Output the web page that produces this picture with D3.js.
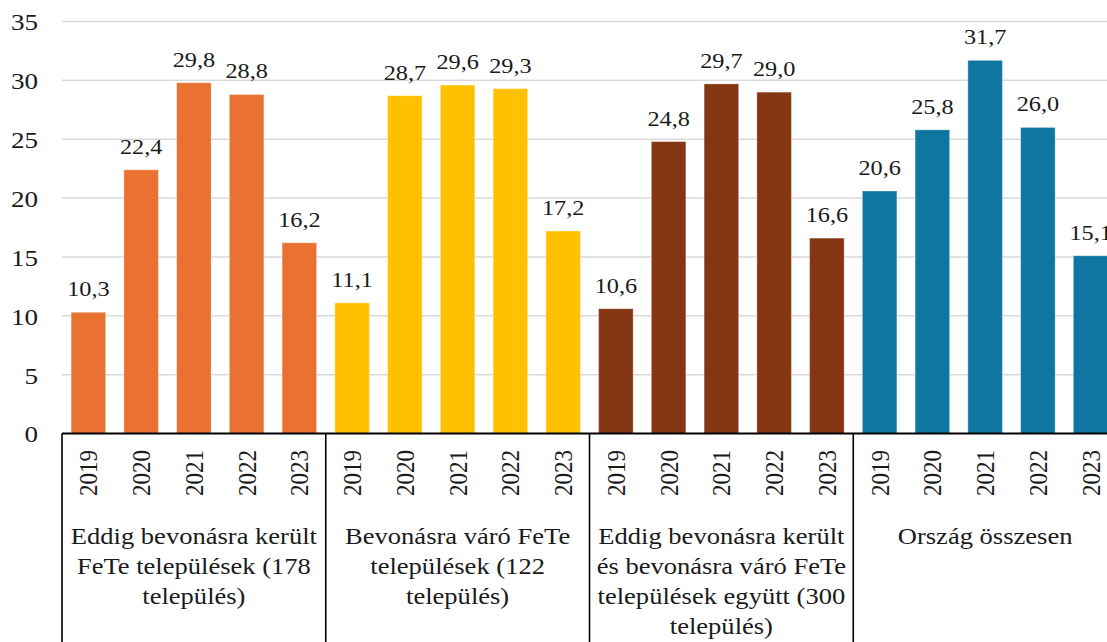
<!DOCTYPE html>
<html>
<head>
<meta charset="utf-8">
<script src="https://cdn.jsdelivr.net/npm/d3@7/dist/d3.min.js"></script>
<style>
  html, body { margin: 0; padding: 0; background: #fff; overflow: hidden; }
  svg { display: block; }
  #chart text { font-family: "Liberation Serif"; }
</style>
</head>
<body>
<svg id="chart" width="1107" height="642" font-family="Liberation Serif"></svg>
<script>
// ---- data ----
const years = ["2019", "2020", "2021", "2022", "2023"];
const groups = [
  "Eddig bevonásra került FeTe települések (178 település)",
  "Bevonásra váró FeTe települések (122 település)",
  "Eddig bevonásra került és bevonásra váró FeTe települések együtt (300 település)",
  "Ország összesen"
];
const groupLabelLines = [
  ["Eddig bevonásra került", "FeTe települések (178", "település)"],
  ["Bevonásra váró FeTe", "települések (122", "település)"],
  ["Eddig bevonásra került", "és bevonásra váró FeTe", "települések együtt (300", "település)"],
  ["Ország összesen"]
];
const valuesGroup1 = [10.3, 22.4, 29.8, 28.8, 16.2];
const valuesGroup2 = [11.1, 28.7, 29.6, 29.3, 17.2];
const valuesGroup3 = [10.6, 24.8, 29.7, 29.0, 16.6];
const valuesGroup4 = [20.6, 25.8, 31.7, 26.0, 15.1];
const seriesValues = [valuesGroup1, valuesGroup2, valuesGroup3, valuesGroup4];
const yTicks = [0, 5, 10, 15, 20, 25, 30, 35];
const colors = ["#E97132", "#FFC000", "#843511", "#0E76A0"];

const FONT = "Liberation Serif";
const SX = 1.13; // horizontal stretch of the reference's text
const TXT = "#1a1a1a";

// ---- layout ----
const svg = d3.select("#chart");
const plotLeft = 62, plotRight = 1117, yZero = 433.5, yTop = 21.5, bottom = 642;

const y = d3.scaleLinear().domain([0, 35]).range([yZero, yTop]);
const xGroup = d3.scaleBand().domain(groups).range([plotLeft, plotRight]).padding(0);
const xYear = d3.scaleBand().domain(years).range([0, xGroup.bandwidth()])
  .paddingInner(0.345).paddingOuter(0.1725);

// gridlines
svg.append("g").selectAll("line").data(yTicks.filter(t => t > 0)).join("line")
  .attr("x1", plotLeft).attr("x2", plotRight)
  .attr("y1", d => y(d)).attr("y2", d => y(d))
  .attr("stroke", "#d9d9d9").attr("stroke-width", 1.5);

// y axis labels
const yAxis = d3.axisLeft(y).tickValues(yTicks).tickSize(0).tickPadding(0).tickFormat(d3.format("d"));
const yg = svg.append("g").attr("transform", "translate(38,0)").call(yAxis);
yg.attr("font-family", FONT).attr("font-size", 24);
yg.select(".domain").remove();
yg.selectAll(".tick text")
  .attr("x", 0).attr("dy", "0.35em")
  .attr("transform", `scale(${SX},1)`)
  .attr("fill", TXT)
  .style("font-family", FONT).style("font-size", "24px");

// bars
groups.forEach((g, gi) => {
  const gx = xGroup(g);
  const data = years.map((yr, i) => ({ yr, v: seriesValues[gi][i] }));
  const gg = svg.append("g").attr("transform", `translate(${gx},0)`).attr("font-family", FONT);
  gg.selectAll("rect").data(data).join("rect")
    .attr("x", d => xYear(d.yr))
    .attr("width", xYear.bandwidth())
    .attr("y", d => y(d.v))
    .attr("height", d => y(0) - y(d.v))
    .attr("fill", colors[gi])
    .attr("stroke", "#ffffff").attr("stroke-opacity", 0.35).attr("stroke-width", 1);
  gg.selectAll("text.val").data(data).join("text")
    .attr("class", "val")
    .attr("transform", d => `translate(${xYear(d.yr) + xYear.bandwidth() / 2},${y(d.v) - 16}) scale(${SX},1)`)
    .attr("text-anchor", "middle")
    .attr("fill", TXT)
    .style("font-family", FONT)
    .style("font-size", "21.5px")
    .text(d => d3.format(".1f")(d.v).replace(".", ","));
  // year labels (rotated)
  gg.selectAll("text.yr").data(data).join("text")
    .attr("class", "yr")
    .attr("transform", d => `translate(${xYear(d.yr) + xYear.bandwidth() / 2},450) scale(${SX},1) rotate(-90)`)
    .attr("text-anchor", "end")
    .attr("dy", "0.35em")
    .attr("fill", TXT)
    .style("font-family", FONT)
    .style("font-size", "23px")
    .text(d => d.yr);
  // group labels
  const cx = xGroup.bandwidth() / 2;
  gg.append("text")
    .attr("transform", `translate(${cx},0) scale(${SX},1)`)
    .attr("text-anchor", "middle")
    .attr("fill", TXT)
    .style("font-family", FONT)
    .style("font-size", "23.5px")
    .selectAll("tspan").data(groupLabelLines[gi]).join("tspan")
    .attr("x", 0)
    .attr("y", (d, i) => 544 + i * 30)
    .text(d => d);
});

// x axis line and group separators
svg.append("line").attr("x1", plotLeft).attr("x2", plotRight)
  .attr("y1", yZero).attr("y2", yZero).attr("stroke", "#000").attr("stroke-width", 2);
svg.append("g").selectAll("line").data(groups).join("line")
  .attr("x1", d => xGroup(d)).attr("x2", d => xGroup(d))
  .attr("y1", yZero).attr("y2", bottom)
  .attr("stroke", "#000").attr("stroke-width", 1.6);
</script>
</body>
</html>
